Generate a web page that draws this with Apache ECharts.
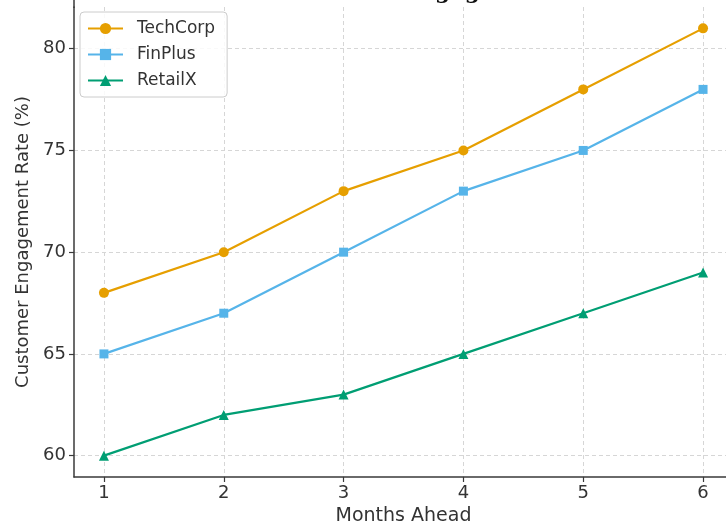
<!DOCTYPE html>
<html>
<head>
<meta charset="utf-8">
<script src="https://cdn.jsdelivr.net/npm/echarts@6/dist/echarts.min.js"></script>
<style>
  html, body { margin: 0; padding: 0; background: #ffffff; }
  #chart { width: 726px; height: 529px; }
</style>
</head>
<body>
<div id="chart"></div>
<script>
// Forecast horizon (months ahead)
const months = [1, 2, 3, 4, 5, 6];
// Predicted engagement rate per company (%)
const techCorp = [68, 70, 73, 75, 78, 81];
const finPlus = [65, 67, 70, 73, 75, 78];
const retailX = [60, 62, 63, 65, 67, 69];
// Axis tick labels
const yTicks = [60, 65, 70, 75, 80];
const xTicks = [1, 2, 3, 4, 5, 6];

const font = 'DejaVu Sans';
const axisColor = '#3a3a3a';
const gridStyle = { color: '#d6d6d6', type: [4, 3], width: 1 };

function pairs(values) {
  return months.map((m, i) => [m, values[i]]);
}

const chart = echarts.init(document.getElementById('chart'), null, { renderer: 'canvas' });

chart.setOption({
  backgroundColor: '#ffffff',
  animation: false,
  title: {
    text: 'Customer Engagement Rate Forecast (Next 6 Months)',
    left: 270,
    top: -24,
    textStyle: { fontFamily: 'DejaVu Serif', fontWeight: 'bold', fontSize: 22, color: '#111' }
  },
  grid: { left: 74, right: -7, top: 7, bottom: 52, outerBoundsMode: 'none' },
  graphic: [
    {
      type: 'line',
      shape: { x1: 74, y1: 0, x2: 74, y2: 8 },
      style: { stroke: axisColor, lineWidth: 1.5 },
      silent: true
    }
  ],
  legend: {
    orient: 'vertical',
    left: 80,
    top: 12,
    padding: [8, 12, 8, 7],
    itemGap: 9,
    itemWidth: 35,
    itemHeight: 14,
    borderColor: '#cccccc',
    borderWidth: 1,
    borderRadius: 4,
    backgroundColor: 'rgba(255,255,255,0.85)',
    textStyle: { fontFamily: font, fontSize: 17, color: '#333', padding: [0, 0, 0, 9] },
    data: ['TechCorp', 'FinPlus', 'RetailX']
  },
  xAxis: {
    type: 'value',
    min: 0.75,
    max: 6.25,
    name: 'Months Ahead',
    nameLocation: 'middle',
    nameGap: 30,
    nameTextStyle: { fontFamily: font, fontSize: 19, color: '#333' },
    axisLine: { show: true, lineStyle: { color: axisColor, width: 1.5 } },
    axisTick: { show: true, customValues: xTicks, length: 5, lineStyle: { color: axisColor, width: 1.2 } },
    axisLabel: { customValues: xTicks, fontFamily: font, fontSize: 18, color: '#333', margin: 7 },
    splitLine: { show: true, lineStyle: gridStyle }
  },
  yAxis: {
    type: 'value',
    min: 58.95,
    max: 82.05,
    name: 'Customer Engagement Rate (%)',
    nameLocation: 'middle',
    nameGap: 40,
    nameTextStyle: { fontFamily: font, fontSize: 18, color: '#333' },
    axisLine: { show: true, lineStyle: { color: axisColor, width: 1.5 } },
    axisTick: { show: true, customValues: yTicks, length: 5, lineStyle: { color: axisColor, width: 1.2 } },
    axisLabel: { customValues: yTicks, fontFamily: font, fontSize: 18, color: '#333', margin: 8 },
    splitLine: { show: true, lineStyle: gridStyle }
  },
  series: [
    {
      name: 'TechCorp',
      type: 'line',
      data: pairs(techCorp),
      symbol: 'circle',
      symbolSize: 10,
      color: '#E69F00',
      lineStyle: { width: 2.2 },
      itemStyle: { color: '#E69F00' }
    },
    {
      name: 'FinPlus',
      type: 'line',
      data: pairs(finPlus),
      symbol: 'rect',
      symbolSize: 9,
      color: '#56B4E9',
      lineStyle: { width: 2.2 },
      itemStyle: { color: '#56B4E9' }
    },
    {
      name: 'RetailX',
      type: 'line',
      data: pairs(retailX),
      symbol: 'triangle',
      symbolSize: 10,
      color: '#009E73',
      lineStyle: { width: 2.2 },
      itemStyle: { color: '#009E73' }
    }
  ]
});
</script>
</body>
</html>
